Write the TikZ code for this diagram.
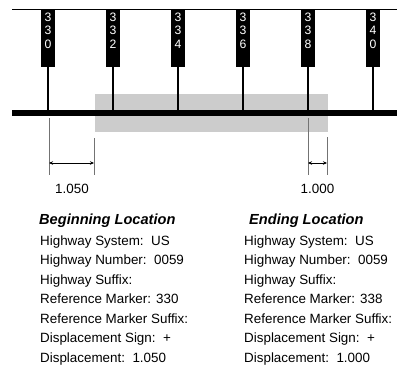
\documentclass[tikz,border=0pt]{standalone}
\usepackage{fontspec}
\setmainfont{Liberation Sans}
\usetikzlibrary{arrows.meta,positioning}

\tikzset{
  marker/.style={fill=black, minimum width=13.5pt, minimum height=57.5pt, inner sep=0pt, anchor=north},
  digits/.style={text=white, font=\fontsize{12.2}{13.5}\selectfont, align=center, anchor=north, inner sep=0pt},
  post/.style={line width=2.6pt},
  road/.style={line width=5.5pt},
  extline/.style={draw=black!55, line width=0.6pt},
  dimline/.style={{Stealth[length=4pt,width=3.5pt]}-{Stealth[length=4pt,width=3.5pt]}, line width=0.6pt},
  info/.style={anchor=base west, inner sep=0pt, font=\fontsize{13.4}{16}\selectfont},
  head/.style={info, font=\fontsize{14.6}{16}\selectfont\bfseries\itshape},
}

\begin{document}
\begin{tikzpicture}[x=1pt, y=-1pt]
  \useasboundingbox (0,0) rectangle (397,370);

  % span between beginning and ending location
  \fill[black!20] (95,94) rectangle (328,132);

  % frame line and road
  \coordinate (topL) at (12,9.5);
  \coordinate (topR) at (397,9.5);
  \coordinate (roadL) at (12,113);
  \coordinate (roadR) at (397,113);
  \draw[line width=1.5pt] (topL) -- (topR);

  % reference markers
  \foreach \n/\a/\b/\c/\x in {330/3/3/0/48, 332/3/3/2/113, 334/3/3/4/178,
                              336/3/3/6/243, 338/3/3/8/308, 340/3/4/0/373} {
    \node[marker] (m\n) at (\x,9.5) {};
    \node[digits] (d\n) at ([yshift=-3pt]m\n.north) {\a\\\b\\\c};
    \draw[post] (m\n.south) -- (m\n.south |- roadL);
  }
  \draw[road] (roadL) -- (roadR);

  % displacement dimensions
  \coordinate (b0) at (49,118);  \coordinate (b0e) at (49,175);
  \coordinate (b1) at (94,138);  \coordinate (b1e) at (94,175);
  \coordinate (e0) at (308,118); \coordinate (e0e) at (308,175);
  \coordinate (e1) at (327,137); \coordinate (e1e) at (327,175);
  \foreach \p in {b0,b1,e0,e1}
    \draw[extline] (\p) -- (\p e);
  \draw[dimline] (b0 |- 0,163) -- (b1 |- 0,163);
  \draw[dimline] (e0 |- 0,163) -- (e1 |- 0,163);
  \node[info, anchor=base] (dbeg) at (72,193.5) {1.050};
  \node[info, anchor=base] (dend) at (317.5,193.5) {1.000};

  % location records
  \node[head] (hbeg) at (39,224) {Beginning Location};
  \node[head] (hend) at (249,224) {Ending Location};
  \foreach \t [count=\i] in {Highway System:\ \ US, Highway Number:\ \ 0059,
      Highway Suffix:, Reference Marker: 330, Reference Marker Suffix:,
      Displacement Sign:\ \ +, Displacement:\ \ 1.050}
    \node[info] (lb\i) at (40,{245+19.55*(\i-1)}) {\t};
  \foreach \t [count=\i] in {Highway System:\ \ US, Highway Number:\ \ 0059,
      Highway Suffix:, Reference Marker: 338, Reference Marker Suffix:,
      Displacement Sign:\ \ +, Displacement:\ \ 1.000}
    \node[info] (le\i) at (244,{245+19.55*(\i-1)}) {\t};
\end{tikzpicture}
\end{document}
